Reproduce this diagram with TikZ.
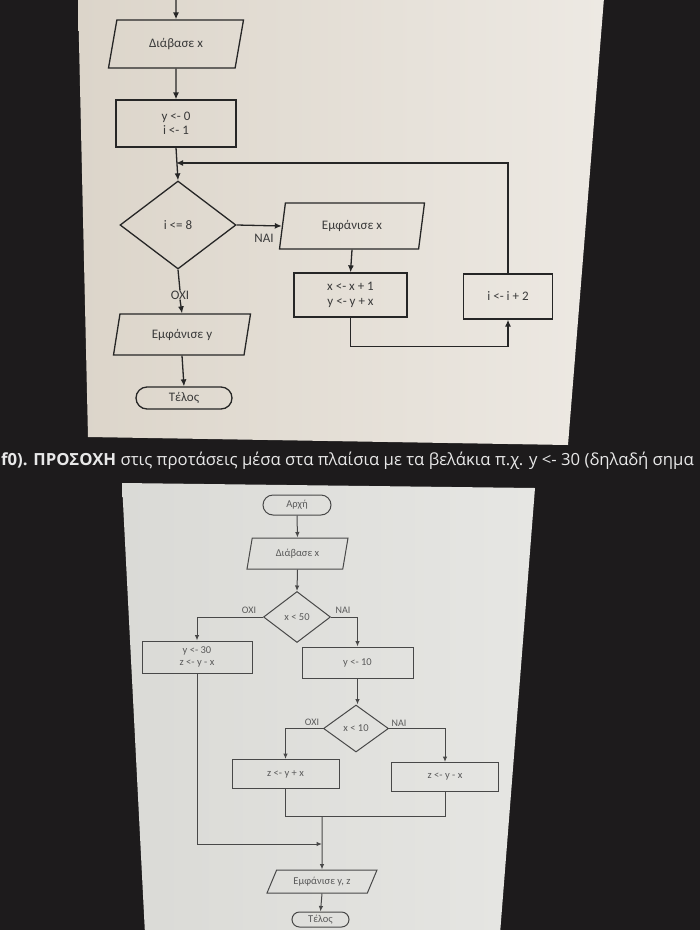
\documentclass[tikz,border=0pt]{standalone}
\usepackage{fontspec}
\setmainfont{Carlito}
\newfontfamily\capfont{Open Sans}
\usetikzlibrary{shapes.geometric,shapes.misc,arrows.meta}
\definecolor{bgc}{HTML}{1D1B1C}
\definecolor{topl}{HTML}{DCD5CA}
\definecolor{topr}{HTML}{EDE9E3}
\definecolor{botl}{HTML}{DADAD6}
\definecolor{botr}{HTML}{E6E6E3}
\definecolor{lnc}{HTML}{262626}
\definecolor{txc}{HTML}{3A3A3A}
\definecolor{lnb}{HTML}{484848}
\definecolor{txb}{HTML}{5A5A5A}
\definecolor{capc}{HTML}{E8E8E8}
\tikzset{
  topsty/.style={draw=lnc, line width=1.3pt, text=txc, font=\fontsize{13}{14.5}\selectfont},
  botsty/.style={draw=lnb, line width=1pt, text=txb, font=\fontsize{10.5}{11.5}\selectfont},
  proc/.style={rectangle, inner sep=1pt, align=center},
  io/.style={trapezium, trapezium stretches body, inner sep=1pt, align=center},
  dec/.style={diamond, inner sep=0pt, align=center},
  term/.style={rounded rectangle, inner sep=1pt, align=center},
  arrt/.style={draw=lnc, line width=1.3pt, -{Latex[length=7pt,width=6pt]}},
  lnt/.style={draw=lnc, line width=1.3pt},
  arrb/.style={draw=lnb, line width=1pt, -{Latex[length=5.5pt,width=4.5pt]}},
  lnb/.style={draw=lnb, line width=1pt},
  lblt/.style={text=txc, font=\fontsize{13}{14}\selectfont, inner sep=0pt},
  lblb/.style={text=txb, font=\fontsize{10}{11}\selectfont, inner sep=0pt},
}
\begin{document}
\begin{tikzpicture}[x=1pt,y=-1pt]
\useasboundingbox (0,0) rectangle (700,930);
\clip (0,0) rectangle (700,930);
\fill[bgc] (0,0) rectangle (700,930);
% panels
\shade[left color=topl, right color=topr] (78,-2) -- (604,-2) -- (568,445) -- (88,437) -- cycle;
\shade[left color=botl, right color=botr] (122,483) -- (535,488) -- (500,934) -- (145,934) -- cycle;
% caption
\node[anchor=base west, text=capc, inner sep=0pt, font=\capfont\fontsize{16.7}{20}\selectfont] (cap) at (1,465)
  {\textbf{f0). ΠΡΟΣΟΧΗ} στις προτάσεις μέσα στα πλαίσια με τα βελάκια π.χ. y <- 30 (δηλαδή σημα};

% ---------- top flowchart ----------
\coordinate (in1) at (176,-2);
\node[io, topsty, trapezium left angle=58, trapezium right angle=122, minimum width=135pt, minimum height=48pt] (par1) at (176,44) {Διάβασε x};
\node[proc, topsty, minimum width=120pt, minimum height=47pt] (box1) at (176,123.5) {y <- 0\\i <- 1};
\node[dec, topsty, minimum width=116pt, minimum height=88pt] (dia1) at (178,225) {i <= 8};
\coordinate (join1) at (176,163);
\node[io, topsty, trapezium left angle=66, trapezium right angle=114, minimum width=145pt, minimum height=46pt] (par2) at (352,226) {Εμφάνισε x};
\node[proc, topsty, minimum width=113pt, minimum height=44pt] (box2) at (350.5,295) {x <- x + 1\\y <- y + x};
\node[proc, topsty, minimum width=89pt, minimum height=45pt] (box3) at (508,296.5) {i <- i + 2};
\node[io, topsty, trapezium left angle=64, trapezium right angle=116, minimum width=137pt, minimum height=41pt] (par3) at (182,334.5) {Εμφάνισε y};
\node[term, topsty, minimum width=98pt, minimum height=22pt] (end1) at (184,398) {Τέλος};
\node[lblt] (nai1) at (264,238) {ΝΑΙ};
\node[lblt] (oxi1) at (180,295) {ΟΧΙ};

\draw[arrt] (in1) -- (par1.north);
\draw[arrt] (par1.south) -- (box1.north);
\draw[arrt] (box1.south) -- (dia1.north);
\draw[arrt] (box3.north) |- (join1);
\draw[arrt] (dia1.east) -- (par2.west);
\draw[arrt] (par2.south) -- (box2.north);
\draw[arrt] (box2.south) -- ++(0,29) -| (box3.south);
\draw[lnt] (dia1.south) -- (oxi1.north);
\draw[arrt] (oxi1.south) -- (par3.north);
\draw[arrt] (par3.south) -- (end1.north);

% ---------- bottom flowchart ----------
\node[term, botsty, minimum width=70pt, minimum height=20pt] (start2) at (297,505) {Αρχή};
\node[io, botsty, trapezium left angle=65, trapezium right angle=115, minimum width=101pt, minimum height=31pt] (par4) at (297.5,553.5) {Διάβασε x};
\node[dec, botsty, minimum width=67pt, minimum height=51pt] (dia2) at (297,617) {x < 50};
\node[proc, botsty, minimum width=110pt, minimum height=32pt] (box4) at (197,657) {y <- 30\\z <- y - x};
\node[proc, botsty, minimum width=111pt, minimum height=31pt] (box5) at (357.5,662.5) {y <- 10};
\node[dec, botsty, minimum width=65pt, minimum height=47pt] (dia3) at (356,728.5) {x < 10};
\node[proc, botsty, minimum width=107pt, minimum height=29pt] (box6) at (285.5,774) {z <- y + x};
\node[proc, botsty, minimum width=107pt, minimum height=29pt] (box7) at (445,777) {z <- y - x};
\coordinate (mj1) at (322,816);
\coordinate (mj2) at (322,844);
\node[io, botsty, trapezium left angle=49, trapezium right angle=131, minimum width=110pt, minimum height=23pt] (par5) at (322,881.5) {Εμφάνισε y, z};
\node[term, botsty, minimum width=59pt, minimum height=15pt] (end2) at (320.5,919.5) {Τέλος};
\node[lblb] (oxi2) at (249,610) {ΟΧΙ};
\node[lblb] (nai2) at (343,610) {ΝΑΙ};
\node[lblb] (oxi3) at (312,722) {ΟΧΙ};
\node[lblb] (nai3) at (399,723) {ΝΑΙ};

\draw[arrb] (start2.south) -- (par4.north);
\draw[arrb] (par4.south) -- (dia2.north);
\draw[arrb] (dia2.west) -| (box4.north);
\draw[arrb] (dia2.east) -| (box5.north);
\draw[arrb] (box5.south) -- (box5.south |- dia3.north);
\draw[arrb] (dia3.west) -| (box6.north);
\draw[arrb] (dia3.east) -| (box7.north);
\draw[lnb] (box6.south) |- (mj1) -| (box7.south);
\draw[arrb] (box4.south) |- (mj2);
\draw[arrb] (mj1) -- (par5.north);
\draw[arrb] (par5.south) -- (end2.north);
\end{tikzpicture}
\end{document}
